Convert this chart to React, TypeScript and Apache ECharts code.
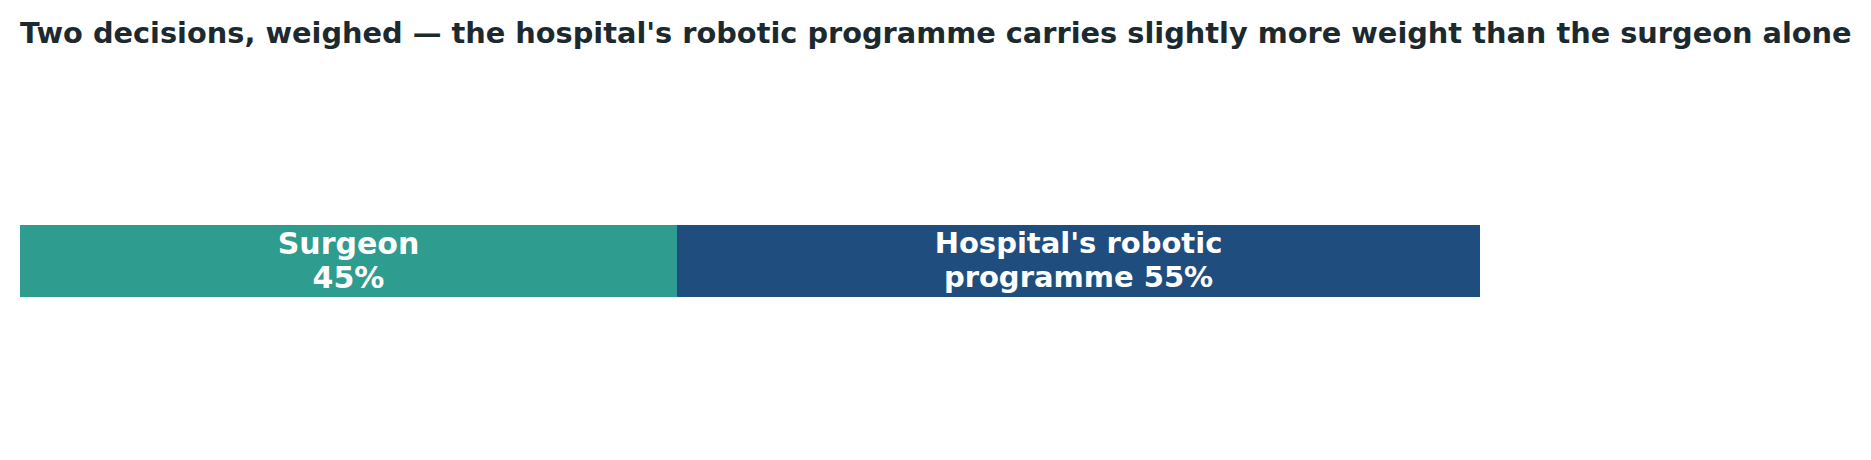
import React, { useEffect, useRef } from "react";
import * as echarts from "echarts";

const titleText =
  "Two decisions, weighed — the hospital's robotic programme carries slightly more weight than the surgeon alone";
const categories = ["Decision weight"];
const segmentNames = ["Surgeon", "Hospital's robotic programme"];
const segmentLabels = ["Surgeon\n45%", "Hospital's robotic\nprogramme 55%"];
const segmentValues = [45, 55];
const segmentColors = ["#2E9C8E", "#1F4E7E"];
const labelSizes = [30, 29];

export default function App() {
  const ref = useRef<HTMLDivElement>(null);
  useEffect(() => {
    if (!ref.current) return;
    const chart = echarts.init(ref.current, undefined, { renderer: "svg" });
    chart.setOption({
      animation: false,
      backgroundColor: "#ffffff",
      title: {
        text: titleText,
        left: 7,
        top: 5,
        textStyle: {
          fontFamily: "DejaVu Sans",
          fontWeight: "bold",
          fontSize: 28.8,
          color: "#1C2A30",
        },
      },
      grid: { left: 12, width: 1460, top: 217, height: 72 },
      xAxis: {
        type: "value",
        min: 0,
        max: 100,
        show: false,
      },
      yAxis: {
        type: "category",
        data: categories,
        show: false,
      },
      series: segmentValues.map((v, i) => ({
        name: segmentNames[i],
        type: "bar",
        stack: "total",
        barWidth: "100%",
        data: [v],
        itemStyle: { color: segmentColors[i] },
        label: {
          show: true,
          position: "inside",
          formatter: segmentLabels[i],
          color: "#ffffff",
          fontFamily: "DejaVu Sans",
          fontWeight: "bold",
          fontSize: labelSizes[i],
          lineHeight: 34,
          align: "center",
          offset: [0, -1],
        },
      })),
    });
    return () => chart.dispose();
  }, []);
  return <div ref={ref} style={{ width: 1855, height: 444 }} />;
}
